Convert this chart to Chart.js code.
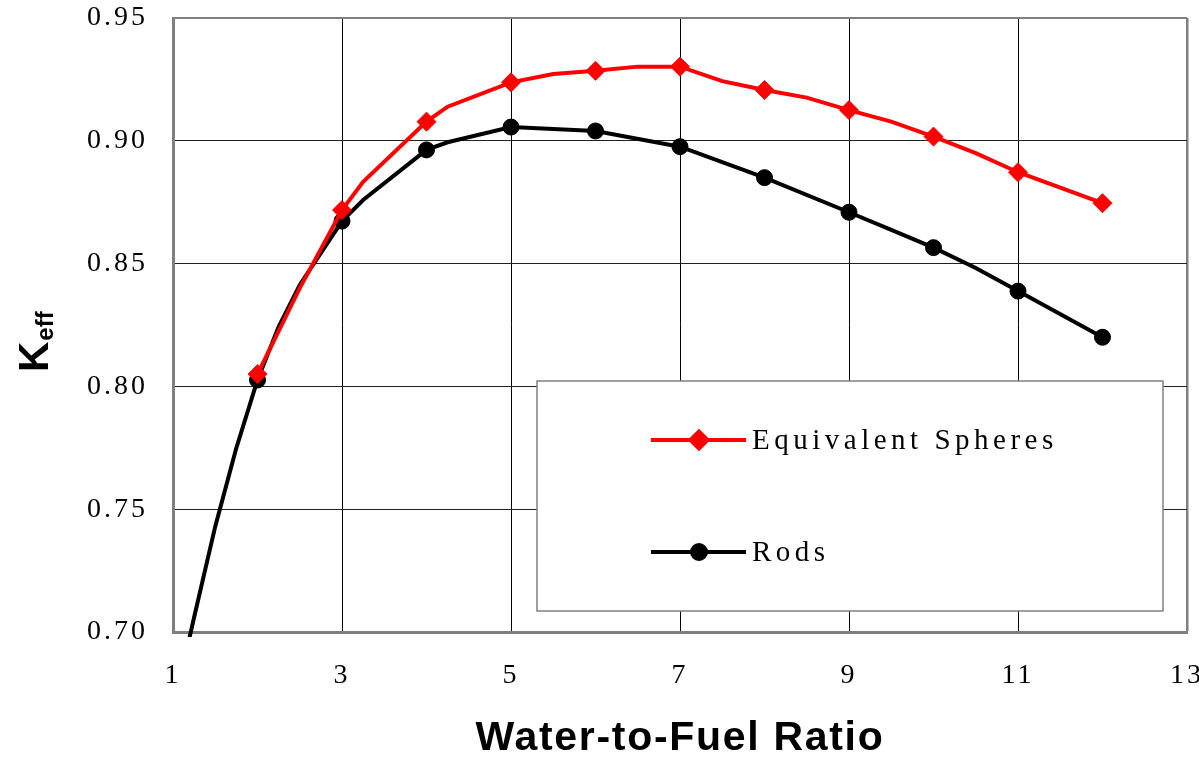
<!DOCTYPE html>
<html>
<head>
<meta charset="utf-8">
<script src="https://cdn.jsdelivr.net/npm/chart.js@4.4.1/dist/chart.umd.min.js"></script>
<style>
  html, body { margin: 0; padding: 0; background: #fff; }
  #wrap { width: 1199px; height: 761px; }
</style>
</head>
<body>
<div id="wrap"><canvas id="keff-chart" width="1199" height="761"></canvas></div>
<script>
// values
const ratioSpheres = [2, 2.5, 3, 3.25, 4, 4.25, 5, 5.5, 6, 6.5, 7, 7.5, 8, 8.5, 9, 9.5, 10, 10.5, 11, 12];
const keffSpheres = [0.805, 0.840, 0.8718, 0.8833, 0.9078, 0.9139, 0.9238, 0.9272, 0.9285, 0.9302, 0.9302,
    0.9243, 0.9207, 0.9176, 0.9125, 0.9078, 0.9017, 0.895, 0.8872, 0.8746];
const ratioRods = [1, 1.25, 1.5, 1.75, 2, 2.25, 2.5, 3, 3.25, 4, 4.25, 5, 5.5, 6, 7, 8, 9, 9.5, 10, 10.5, 11, 12];
const keffRods = [0.668, 0.706, 0.743, 0.775, 0.8026, 0.8243, 0.8413, 0.8673, 0.8759, 0.8963, 0.8994, 0.9056,
    0.9048, 0.904, 0.8976, 0.885, 0.8709, 0.8637, 0.8565, 0.8482, 0.8388, 0.820];
const xTicks = [1, 3, 5, 7, 9, 11, 13];
const yTicks = [0.70, 0.75, 0.80, 0.85, 0.90, 0.95];
const seriesNames = ["Equivalent Spheres", "Rods"];
const xTitle = "Water-to-Fuel Ratio";

function toPoints(xs, ys) {
    return xs.map((x, i) => ({ x: x, y: ys[i] }));
}

// markers only on whole ratios
function markerRadius(size) {
    return function (context) {
        const x = context.raw.x;
        return Number.isInteger(x) && x >= 2 ? size : 0;
    };
}

const serif = "'Liberation Serif', 'Times New Roman', serif";
const sans = "'Liberation Sans', Arial, sans-serif";

const spacingPlugin = {
    id: "spacing",
    beforeDraw(chart) {
        chart.ctx.letterSpacing = "3px";
    },
};

const titlesPlugin = {
    id: "titles",
    afterDraw(chart) {
        const ctx = chart.ctx;
        const area = chart.chartArea;
        ctx.save();
        ctx.fillStyle = "#000";

        // x title
        ctx.letterSpacing = "1.7px";
        ctx.font = "bold 41px " + sans;
        ctx.textAlign = "center";
        ctx.textBaseline = "middle";
        ctx.fillText(xTitle, (area.left + area.right) / 2, 739);

        // y title, K with subscript eff
        ctx.letterSpacing = "0px";
        ctx.translate(48, 372);
        ctx.rotate(-Math.PI / 2);
        ctx.textAlign = "left";
        ctx.textBaseline = "alphabetic";
        ctx.font = "bold 42px " + sans;
        ctx.fillText("K", 0, 0);
        const kw = ctx.measureText("K").width;
        ctx.font = "bold 24px " + sans;
        ctx.fillText("eff", kw + 1, 5);
        ctx.restore();
    },
};

const boxLegendPlugin = {
    id: "boxLegend",
    afterDraw(chart) {
        const ctx = chart.ctx;
        const box = { left: 537, top: 381, right: 1163, bottom: 611 };
        ctx.save();
        ctx.fillStyle = "#fff";
        ctx.fillRect(box.left, box.top, box.right - box.left, box.bottom - box.top);
        ctx.strokeStyle = "#808080";
        ctx.lineWidth = 1.5;
        ctx.strokeRect(box.left, box.top, box.right - box.left, box.bottom - box.top);

        const rows = [440, 552];
        chart.data.datasets.forEach((ds, i) => {
            const y = rows[i];
            ctx.strokeStyle = ds.borderColor;
            ctx.lineWidth = 4;
            ctx.beginPath();
            ctx.moveTo(651, y);
            ctx.lineTo(746, y);
            ctx.stroke();
            Chart.helpers.drawPoint(ctx, {
                pointStyle: ds.pointStyle,
                radius: ds.pointStyle === "rectRot" ? 8.5 : 7,
                borderWidth: 1,
                rotation: 0,
            }, 699, y);
            ctx.fillStyle = ds.borderColor;
            ctx.fill();
            ctx.fillStyle = "#000";
            ctx.font = "29px " + serif;
            ctx.letterSpacing = "4.5px";
            ctx.textAlign = "left";
            ctx.textBaseline = "middle";
            ctx.fillText(ds.label, 752, y + 1);
        });
        ctx.restore();
    },
};

const config = {
    type: "line",
    data: {
        datasets: [
            {
                label: seriesNames[0],
                data: toPoints(ratioSpheres, keffSpheres),
                borderColor: "#ff0000",
                backgroundColor: "#ff0000",
                borderWidth: 4,
                pointStyle: "rectRot",
                pointRadius: markerRadius(9.5),
                pointBorderWidth: 1,
                tension: 0,
            },
            {
                label: seriesNames[1],
                data: toPoints(ratioRods, keffRods),
                borderColor: "#000000",
                backgroundColor: "#000000",
                borderWidth: 4,
                pointStyle: "circle",
                pointRadius: markerRadius(8),
                pointBorderWidth: 1,
                tension: 0,
                clip: { left: 0, top: 0, right: 0, bottom: 5 },
            },
        ],
    },
    plugins: [spacingPlugin, titlesPlugin, boxLegendPlugin],
    options: {
        responsive: false,
        animation: false,
        events: [],
        layout: {
            padding: { top: 18, right: 12, left: 0, bottom: 0 },
        },
        plugins: {
            legend: { display: false },
            tooltip: { enabled: false },
        },
        scales: {
            x: {
                type: "linear",
                min: 1,
                max: 13,
                afterBuildTicks: function (scale) {
                    scale.ticks = xTicks.map((v) => ({ value: v }));
                },
                afterFit: function (scale) {
                    scale.height = 129;
                    scale.paddingLeft = 0;
                    scale.paddingRight = 0;
                },
                ticks: {
                    autoSkip: false,
                    maxRotation: 0,
                    color: "#000",
                    padding: 27,
                    font: { family: serif, size: 28 },
                },
                grid: {
                    drawTicks: false,
                    color: function (context) {
                        const v = context.tick && context.tick.value;
                        return v === 13 || v === 1 ? "#808080" : "#000";
                    },
                    lineWidth: function (context) {
                        const v = context.tick && context.tick.value;
                        return v === 13 ? 2.5 : 1;
                    },
                },
                border: { display: true, color: "#808080", width: 3 },
            },
            y: {
                type: "linear",
                min: 0.7,
                max: 0.95,
                afterBuildTicks: function (scale) {
                    scale.ticks = yTicks.map((v) => ({ value: v }));
                },
                afterFit: function (scale) {
                    scale.width = 173;
                    scale.paddingTop = 0;
                    scale.paddingBottom = 0;
                },
                ticks: {
                    color: "#000",
                    padding: 25,
                    font: { family: serif, size: 28 },
                    callback: function (value) {
                        return value.toFixed(2);
                    },
                },
                grid: {
                    drawTicks: false,
                    color: function (context) {
                        const v = context.tick && context.tick.value;
                        return v === 0.95 ? "#808080" : "#222";
                    },
                    lineWidth: function (context) {
                        const v = context.tick && context.tick.value;
                        return v === 0.95 ? 2 : 1;
                    },
                },
                border: { display: true, color: "#808080", width: 3 },
            },
        },
    },
};

new Chart(document.getElementById("keff-chart"), config);
</script>
</body>
</html>
